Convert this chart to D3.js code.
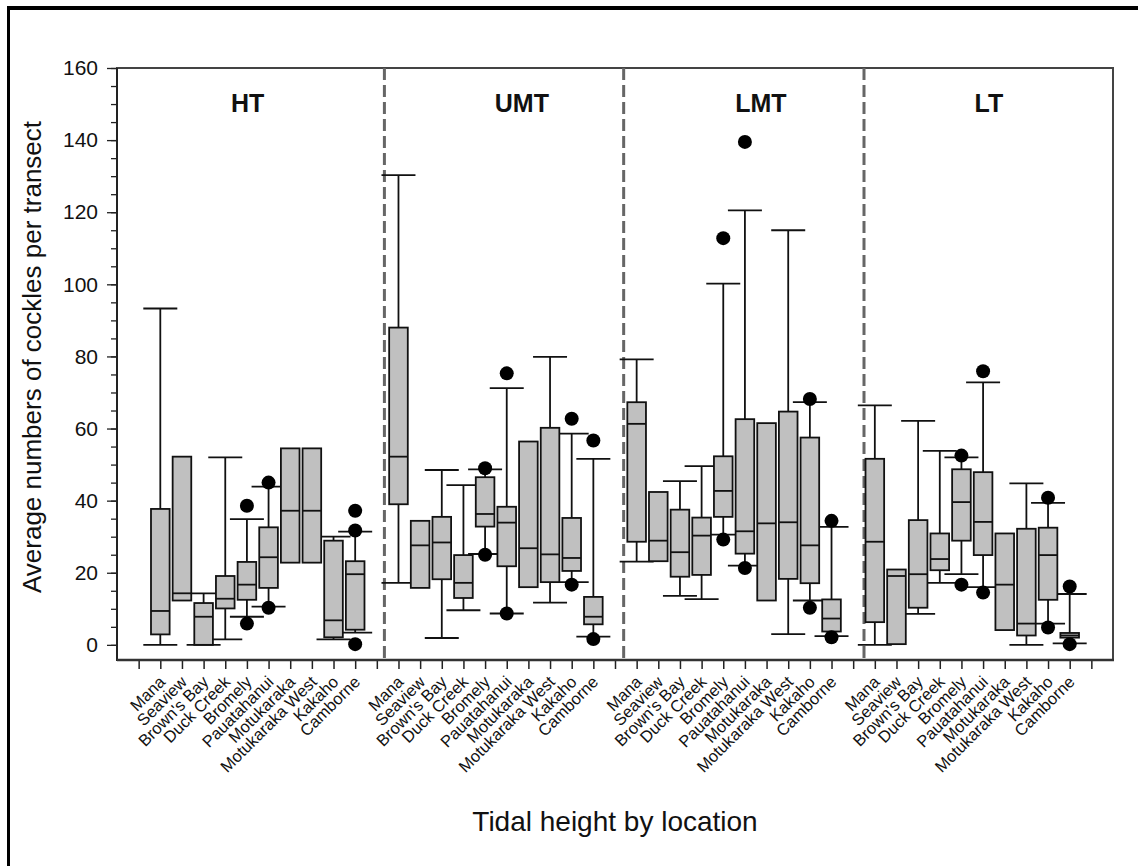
<!DOCTYPE html>
<html>
<head>
<meta charset="utf-8">
<script src="https://cdn.jsdelivr.net/npm/d3@7"></script>
<style>
  body { margin: 0; background: #fff; }
  text { font-family: "Liberation Sans", Arial, sans-serif; }
</style>
</head>
<body>
<div id="chart-container"></div>
<script>
//Chart data: categories and box statistics [lowWhisker, q1, median, q3, highWhisker]

const locations = ["Mana", "Seaview", "Brown's Bay", "Duck Creek", "Bromely", "Pauatahanui",
  "Motukaraka", "Motukaraka West", "Kakaho", "Camborne"];
const tidalGroups = ["HT", "UMT", "LMT", "LT"];
const yTickValues = [0, 20, 40, 60, 80, 100, 120, 140, 160];

const htStats = [
  [0, 2.9, 9.4, 37.7, 93.3],
  [null, 12.3, 14.3, 52.2, null],
  [0, 0, 7.8, 11.6, 14.3],
  [1.5, 10.1, 12.8, 19.1, 52.0],
  [7.8, 12.5, 16.7, 23.0, 34.9],
  [10.6, 15.8, 24.3, 32.6, 43.9],
  [null, 22.8, 37.2, 54.5, null],
  [null, 22.8, 37.2, 54.5, null],
  [1.5, 2.1, 6.8, 28.9, 30.0],
  [3.4, 4.2, 19.6, 23.2, 31.4]
];
const umtStats = [
  [17.2, 39.0, 52.2, 88.0, 130.3],
  [null, 15.8, 27.6, 34.4, null],
  [1.9, 18.2, 28.4, 35.5, 48.5],
  [9.6, 13.0, 17.2, 24.9, 44.3],
  [25.2, 32.8, 36.3, 46.5, 48.7],
  [8.7, 21.8, 33.9, 38.3, 71.2],
  [null, 16.0, 26.8, 56.4, null],
  [11.7, 17.4, 25.1, 60.2, 79.9],
  [17.4, 20.5, 24.1, 35.2, 58.6],
  [2.3, 5.7, 7.8, 13.3, 51.6]
];
const lmtStats = [
  [23.1, 28.6, 61.3, 67.3, 79.2],
  [null, 23.2, 28.9, 42.4, null],
  [13.6, 18.9, 25.7, 37.5, 45.4],
  [12.7, 19.4, 30.3, 35.3, 49.6],
  [30.6, 35.5, 42.7, 52.3, 100.2],
  [22.0, 25.3, 31.5, 62.6, 120.5],
  [null, 12.3, 33.7, 61.5, null],
  [3.0, 18.3, 34.0, 64.7, 115.0],
  [12.3, 17.1, 27.6, 57.5, 67.3],
  [2.4, 3.7, 7.3, 12.6, 32.7]
];
const ltStats = [
  [0, 6.3, 28.6, 51.6, 66.4],
  [null, 0.2, 19.1, 20.9, null],
  [8.6, 10.3, 19.6, 34.6, 62.1],
  [17.2, 20.7, 23.8, 30.9, 53.8],
  [19.6, 28.9, 39.6, 48.7, 52.0],
  [16.0, 24.9, 34.1, 47.9, 72.8],
  [null, 4.1, 16.7, 30.9, null],
  [0, 2.6, 5.9, 32.2, 44.8],
  [5.9, 12.5, 24.9, 32.5, 39.4],
  [0.4, 2.0, 2.6, 3.3, 14.1]
];

//Outliers as [location index, value]

const htOutliers = [[4, 38.6], [4, 5.9], [5, 45.0], [5, 10.3], [9, 37.2], [9, 31.7], [9, 0.2]];
const umtOutliers = [[4, 49.0], [4, 25.0], [5, 75.3], [5, 8.7], [8, 62.7], [8, 16.7], [9, 56.7], [9, 1.6]];
const lmtOutliers = [[4, 112.8], [4, 29.2], [5, 139.5], [5, 21.3], [8, 68.2], [8, 10.3], [9, 34.4], [9, 2.1]];
const ltOutliers = [[4, 52.5], [4, 16.7], [5, 75.9], [5, 14.5], [8, 40.8], [8, 4.8], [9, 16.2], [9, 0.2]];

//Group separators and title positions on the location axis

const separators = [11.35, 22.4, 33.5];
const groupLabelPos = [5.03, 17.7, 28.74, 39.27];

//Chart dimensions

const W = 1138, H = 866;
const plot = { left: 117, top: 68, right: 1113, bottom: 660 };

const statsByGroup = [htStats, umtStats, lmtStats, ltStats];
const outliersByGroup = [htOutliers, umtOutliers, lmtOutliers, ltOutliers];
const slotsPerGroup = locations.length + 1;

//Build flat lists for drawing

const boxes = [];
statsByGroup.forEach((stats, g) => {
  stats.forEach((s, j) => {
    boxes.push({ pos: g * slotsPerGroup + 1 + j, name: locations[j],
      lo: s[0], q1: s[1], med: s[2], q3: s[3], hi: s[4] });
  });
});
const outliers = [];
outliersByGroup.forEach((list, g) => {
  list.forEach(([j, v]) => outliers.push({ pos: g * slotsPerGroup + 1 + j, value: v }));
});

//Scales

const xScale = d3.scaleLinear().domain([-1, tidalGroups.length * slotsPerGroup + 1]).range([plot.left, plot.right]);
const yScale = d3.scaleLinear().domain([-4.2, 160]).range([plot.bottom, plot.top]);

const boxW = xScale(0.86) - xScale(0);
const capW = xScale(1.57) - xScale(0);

const svg = d3.select("#chart-container")
  .append("svg")
  .attr("width", W)
  .attr("height", H)
  .style("display", "block");

svg.append("rect").attr("width", W).attr("height", H).attr("fill", "#fff");

//Outer frame (top and left edges only)

svg.append("line").attr("x1", 7).attr("x2", W).attr("y1", 8).attr("y2", 8)
  .attr("stroke", "#000").attr("stroke-width", 4);
svg.append("line").attr("x1", 8.5).attr("x2", 8.5).attr("y1", 6).attr("y2", H)
  .attr("stroke", "#000").attr("stroke-width", 3);

//Plot frame

svg.append("rect")
  .attr("x", plot.left).attr("y", plot.top)
  .attr("width", plot.right - plot.left).attr("height", plot.bottom - plot.top)
  .attr("fill", "none").attr("stroke", "#444").attr("stroke-width", 2);

//Y axis with minor ticks

svg.append("g")
  .attr("transform", `translate(${plot.left},0)`)
  .call(d3.axisLeft(yScale).tickValues(d3.range(0, 161, 5)).tickSize(6).tickFormat(""))
  .call((g) => g.select(".domain").remove())
  .selectAll("line").attr("stroke", "#222").attr("stroke-width", 1.3);

svg.append("g")
  .attr("transform", `translate(${plot.left},0)`)
  .call(d3.axisLeft(yScale).tickValues(yTickValues).tickSize(10).tickPadding(9))
  .call((g) => g.select(".domain").remove())
  .call((g) => g.selectAll("line").attr("stroke", "#222").attr("stroke-width", 1.3))
  .selectAll("text")
    .style("font-size", "21px")
    .style("font-family", "'Liberation Sans', Arial, sans-serif")
    .attr("fill", "#111");

//X axis ticks and location labels

svg.append("g")
  .attr("transform", `translate(0,${plot.bottom})`)
  .call(d3.axisBottom(xScale).tickValues(d3.range(0, tidalGroups.length * slotsPerGroup + 1)).tickSize(9).tickFormat(""))
  .call((g) => g.select(".domain").remove())
  .selectAll("line").attr("stroke", "#222").attr("stroke-width", 1.5);

svg.append("g")
  .selectAll("text")
  .data(boxes)
  .join("text")
  .attr("transform", (d) => `translate(${xScale(d.pos) + 6},${plot.bottom + 23}) rotate(-45)`)
  .attr("text-anchor", "end")
  .style("font-size", "16.5px")
  .attr("fill", "#111")
  .text((d) => d.name);

//Left and bottom axis lines

svg.append("line").attr("x1", plot.left).attr("x2", plot.left).attr("y1", plot.top).attr("y2", plot.bottom + 1)
  .attr("stroke", "#222").attr("stroke-width", 2);
svg.append("line").attr("x1", plot.left).attr("x2", plot.right + 1).attr("y1", plot.bottom).attr("y2", plot.bottom)
  .attr("stroke", "#333").attr("stroke-width", 2.5);

//Dashed group separators

svg.selectAll(".sep")
  .data(separators)
  .join("line")
  .attr("class", "sep")
  .attr("x1", (d) => xScale(d)).attr("x2", (d) => xScale(d))
  .attr("y1", plot.top).attr("y2", plot.bottom)
  .attr("stroke", "#666")
  .attr("stroke-width", 3)
  .attr("stroke-dasharray", "12,5");

//Group titles

svg.selectAll(".groupTitle")
  .data(tidalGroups)
  .join("text")
  .attr("class", "groupTitle")
  .attr("x", (d, i) => xScale(groupLabelPos[i]))
  .attr("y", 112)
  .attr("text-anchor", "middle")
  .style("font-size", "25px")
  .style("font-weight", "bold")
  .attr("fill", "#111")
  .text((d) => d);

//Whiskers and caps

const whiskers = svg.append("g").attr("stroke", "#111").attr("stroke-width", 1.8);

boxes.filter((d) => d.hi !== null).forEach((d) => {
  const cx = xScale(d.pos);
  whiskers.append("line").attr("x1", cx).attr("x2", cx).attr("y1", yScale(d.q3)).attr("y2", yScale(d.hi));
  whiskers.append("line").attr("x1", cx).attr("x2", cx).attr("y1", yScale(d.q1)).attr("y2", yScale(d.lo));
  whiskers.append("line").attr("x1", cx - capW / 2).attr("x2", cx + capW / 2).attr("y1", yScale(d.hi)).attr("y2", yScale(d.hi));
  whiskers.append("line").attr("x1", cx - capW / 2).attr("x2", cx + capW / 2).attr("y1", yScale(d.lo)).attr("y2", yScale(d.lo));
});

//Boxes and medians

svg.append("g")
  .selectAll("rect")
  .data(boxes)
  .join("rect")
  .attr("x", (d) => xScale(d.pos) - boxW / 2)
  .attr("y", (d) => yScale(d.q3))
  .attr("width", boxW)
  .attr("height", (d) => yScale(d.q1) - yScale(d.q3))
  .attr("fill", "#c0c0c0")
  .attr("stroke", "#111")
  .attr("stroke-width", 1.8);

svg.append("g")
  .selectAll("line")
  .data(boxes)
  .join("line")
  .attr("x1", (d) => xScale(d.pos) - boxW / 2)
  .attr("x2", (d) => xScale(d.pos) + boxW / 2)
  .attr("y1", (d) => yScale(d.med))
  .attr("y2", (d) => yScale(d.med))
  .attr("stroke", "#111")
  .attr("stroke-width", 1.8);

//Outlier points

svg.append("g")
  .selectAll("circle")
  .data(outliers)
  .join("circle")
  .attr("cx", (d) => xScale(d.pos))
  .attr("cy", (d) => yScale(d.value))
  .attr("r", 7)
  .attr("fill", "#000");

//Axis titles

svg.append("text")
  .attr("transform", `translate(41,357) rotate(-90)`)
  .attr("text-anchor", "middle")
  .style("font-size", "26px")
  .attr("fill", "#111")
  .text("Average numbers of cockles per transect");

svg.append("text")
  .attr("x", (plot.left + plot.right) / 2)
  .attr("y", 831)
  .attr("text-anchor", "middle")
  .style("font-size", "28px")
  .attr("fill", "#111")
  .text("Tidal height by location");
</script>
</body>
</html>
